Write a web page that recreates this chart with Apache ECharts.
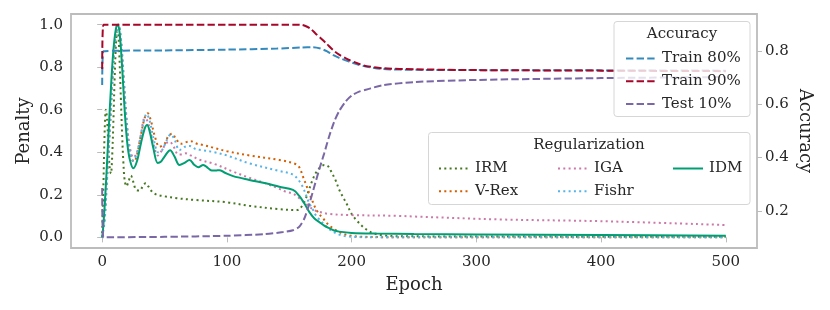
<!DOCTYPE html>
<html>
<head>
<meta charset="utf-8">
<script src="https://cdn.jsdelivr.net/npm/echarts@6/dist/echarts.min.js"></script>
<style>html,body{margin:0;padding:0;background:#fff}#c{width:830px;height:310px}</style>
</head>
<body>
<div id="c"></div>
<script>
// ---- data ----
const xTicks = [0, 100, 200, 300, 400, 500];
const penaltyTicks = [0, 0.2, 0.4, 0.6, 0.8, 1.0];
const accTicks = [0.2, 0.4, 0.6, 0.8];

const idmEpoch = [0,1,3,5,7,9,11,12.5,14,16,18,20,22,25,28,31,34,36,38,41,44.5,47,50,54.5,58,62,66,70,74,77,81,85,88,91,94,98,105,118,131,142,153,158,162,166,170,174,178,182,186,190,200,220,250,300,400,500];
const idmValue = [0,0.06,0.25,0.48,0.70,0.88,0.98,1.0,0.96,0.80,0.60,0.45,0.37,0.325,0.36,0.44,0.51,0.528,0.50,0.42,0.35,0.355,0.38,0.41,0.38,0.34,0.35,0.364,0.34,0.33,0.34,0.325,0.314,0.314,0.316,0.305,0.288,0.27,0.254,0.238,0.223,0.195,0.16,0.12,0.09,0.072,0.055,0.043,0.032,0.027,0.021,0.018,0.016,0.014,0.011,0.008];

const vrexEpoch = [0,2,4,6,8,10,12,13,15,17,19,21,23,25.5,28,31,34,36.5,39,42,46,50,53,56,59,63,67,71,76,81,90,100,118,142,155,158,161,164,166,169,171,174,177,181,185,190,196,205,230,500];
const vrexValue = [0,0.1,0.3,0.5,0.72,0.9,0.99,1.0,0.92,0.75,0.58,0.45,0.38,0.356,0.39,0.48,0.56,0.583,0.55,0.48,0.426,0.44,0.475,0.487,0.465,0.44,0.447,0.452,0.44,0.434,0.42,0.405,0.385,0.364,0.345,0.33,0.285,0.24,0.207,0.165,0.137,0.11,0.09,0.062,0.043,0.025,0.012,0.004,0.001,0.0];

const fishrEpoch = [0,2,4,6,8,10,12,13,15,17,19,21,23,25,28,31,34,35.5,38,41,45,48,52,55,58,62,66,70,75,80,90,100,118,142,153,158,161,164,166,169,171,174,177,181,185,190,196,210,500];
const fishrValue = [0,0.08,0.28,0.5,0.72,0.9,0.99,1.0,0.93,0.76,0.58,0.45,0.38,0.36,0.40,0.48,0.56,0.58,0.55,0.47,0.40,0.41,0.46,0.484,0.46,0.41,0.425,0.43,0.415,0.41,0.40,0.385,0.348,0.312,0.295,0.265,0.235,0.19,0.16,0.13,0.106,0.085,0.067,0.045,0.027,0.013,0.005,0.001,0];

const igaEpoch = [0,2,4,6,8,10,12,13,15,17,19,21,23,25,28,31,34,36,39,42,44.5,48,51,54,57,61,64,67,71,78,90,105,118,131,142,147,153,158,162,166,170,174,182,198,238,250,320,400,500];
const igaValue = [0,0.1,0.3,0.5,0.72,0.9,0.99,1.0,0.93,0.78,0.6,0.47,0.40,0.375,0.40,0.48,0.56,0.55,0.49,0.42,0.385,0.41,0.44,0.45,0.43,0.39,0.39,0.395,0.385,0.365,0.345,0.309,0.28,0.254,0.228,0.215,0.205,0.184,0.165,0.145,0.128,0.12,0.11,0.105,0.101,0.098,0.084,0.076,0.058];

const irmEpoch = [0,1,2,3,4,5,6,7,8,9,10,11,12,13,14,15,16,17,18,19.5,21,23,25,27,30,33,35,37,40,44,50,60,74,100,118,142,155,158,162,165,168,171,174,178,181,184,187,190,193,196,200,204,209,213,217,225,240,500];
const irmValue = [0.02,0.25,0.5,0.6,0.55,0.42,0.33,0.30,0.38,0.55,0.75,0.9,0.97,0.95,0.82,0.65,0.48,0.35,0.27,0.24,0.26,0.29,0.26,0.225,0.22,0.245,0.255,0.24,0.215,0.2,0.193,0.184,0.176,0.165,0.148,0.133,0.128,0.132,0.165,0.21,0.26,0.30,0.325,0.34,0.335,0.305,0.27,0.225,0.19,0.158,0.11,0.08,0.05,0.032,0.02,0.01,0.005,0.003];

const train80Epoch = [0,1,50,100,140,160,169,175,180,185,190,198,205,212,225,252,300,400,500];
const train80Value = [0.673,0.80,0.803,0.806,0.81,0.814,0.815,0.81,0.80,0.786,0.775,0.761,0.75,0.742,0.733,0.73,0.729,0.728,0.727];

const train90Epoch = [0,1,50,100,155,160,163,167,171,175,180,185,190,198,205,212,225,252,300,400,500];
const train90Value = [0.733,0.9,0.9,0.9,0.9,0.899,0.895,0.885,0.867,0.85,0.828,0.805,0.787,0.767,0.754,0.744,0.736,0.732,0.729,0.727,0.725];

const test10Epoch = [0,1,50,100,130,145,153,158,162,166,170,174,178,182,186,190,195,200,206,212,225,250,300,400,500];
const test10Value = [0.286,0.1,0.102,0.106,0.112,0.12,0.127,0.14,0.17,0.225,0.29,0.355,0.416,0.48,0.535,0.575,0.61,0.633,0.648,0.656,0.672,0.684,0.692,0.699,0.703];

// ---- chart ----
const FONT = 'DejaVu Serif';
const TXT = '#262626';
const pairs = (xs, ys) => xs.map((x, i) => [x, ys[i]]);
const dotted = [2, 3.3];
const dashed = [7.4, 3.2];

function penaltySeries(name, xs, ys, color, type, width) {
  return { name, type: 'line', data: pairs(xs, ys), yAxisIndex: 0, showSymbol: false, symbol: 'none',
    smooth: 0.35, z: 2, lineStyle: { color, width, type, cap: 'butt' }, itemStyle: { color } };
}
function accSeries(name, xs, ys, color) {
  return { name, type: 'line', data: pairs(xs, ys), yAxisIndex: 1, showSymbol: false, symbol: 'none',
    smooth: 0.25, z: 3, lineStyle: { color, width: 2, type: dashed }, itemStyle: { color } };
}

const legendText = { fontFamily: FONT, fontSize: 15, color: TXT, lineHeight: 18, padding: [0, 0, 0, 1] };
function mkLegend(names, left, top) {
  return { data: names, orient: 'vertical', left, top, itemWidth: 30, itemHeight: 14, itemGap: 4.8,
    textStyle: legendText, selectedMode: false, z: 20, itemStyle: { opacity: 0 } };
}

const chart = echarts.init(document.getElementById('c'), null, { renderer: 'canvas' });
chart.setOption({
  animation: false,
  backgroundColor: '#fff',
  grid: { left: 71, right: 73, top: 14, bottom: 62, show: true, borderColor: '#bcbcbc', borderWidth: 1.8, backgroundColor: 'transparent' },
  xAxis: {
    type: 'value', min: -25, max: 525,
    name: 'Epoch', nameLocation: 'middle', nameGap: 28,
    nameTextStyle: { fontFamily: FONT, fontSize: 18, color: TXT },
    axisLine: { show: false },
    splitLine: { show: false },
    axisTick: { show: true, customValues: xTicks, length: 5, lineStyle: { color: '#bcbcbc', width: 1 } },
    axisLabel: { customValues: xTicks, fontFamily: FONT, fontSize: 15, color: TXT, margin: 7 }
  },
  yAxis: [
    {
      type: 'value', min: -0.05, max: 1.05, position: 'left',
      name: 'Penalty', nameLocation: 'middle', nameGap: 38, nameRotate: 90, nameMoveOverlap: false,
      nameTextStyle: { fontFamily: FONT, fontSize: 18, color: TXT },
      axisLine: { show: false }, splitLine: { show: false },
      axisTick: { show: true, customValues: penaltyTicks, length: 5, lineStyle: { color: '#bcbcbc', width: 1 } },
      axisLabel: { customValues: penaltyTicks, fontFamily: FONT, fontSize: 15, color: TXT, margin: 8,
        formatter: v => v.toFixed(1) }
    },
    {
      type: 'value', min: 0.06, max: 0.94, position: 'right',
      name: 'Accuracy', nameLocation: 'middle', nameGap: 39, nameRotate: -90, nameMoveOverlap: false,
      nameTextStyle: { fontFamily: FONT, fontSize: 18, color: TXT },
      axisLine: { show: false }, splitLine: { show: false },
      axisTick: { show: true, customValues: accTicks, length: 5, lineStyle: { color: '#bcbcbc', width: 1 } },
      axisLabel: { customValues: accTicks, fontFamily: FONT, fontSize: 15, color: TXT, margin: 8,
        formatter: v => v.toFixed(1) }
    }
  ],
  legend: [
    mkLegend(['Train 80%', 'Train 90%', 'Test 10%'], 620, 44.5),
    mkLegend(['IRM', 'V-Rex'], 433, 154.5),
    mkLegend(['IGA', 'Fishr'], 552, 154.5),
    mkLegend(['IDM'], 667, 154.5)
  ],
  graphic: [
    { type: 'rect', z: 10, shape: { x: 614, y: 21.5, width: 136, height: 95, r: 3 },
      style: { fill: 'rgba(255,255,255,0.8)', stroke: '#d6d6d6', lineWidth: 1 } },
    { type: 'text', z: 11, style: { text: 'Accuracy', x: 682, y: 34.5, align: 'center', verticalAlign: 'middle',
      font: '15px "DejaVu Serif"', fill: TXT } },
    { type: 'rect', z: 10, shape: { x: 428.5, y: 132.5, width: 321.5, height: 72, r: 3 },
      style: { fill: 'rgba(255,255,255,0.8)', stroke: '#d6d6d6', lineWidth: 1 } },
    { type: 'text', z: 11, style: { text: 'Regularization', x: 589, y: 145, align: 'center', verticalAlign: 'middle',
      font: '15px "DejaVu Serif"', fill: TXT } }
  ],
  series: [
    penaltySeries('IRM', irmEpoch, irmValue, '#467821', dotted, 2),
    penaltySeries('V-Rex', vrexEpoch, vrexValue, '#D55E00', dotted, 2),
    penaltySeries('IGA', igaEpoch, igaValue, '#CC79A7', dotted, 2),
    penaltySeries('Fishr', fishrEpoch, fishrValue, '#56B4E9', dotted, 2),
    penaltySeries('IDM', idmEpoch, idmValue, '#009E73', 'solid', 2),
    accSeries('Train 80%', train80Epoch, train80Value, '#348ABD'),
    accSeries('Train 90%', train90Epoch, train90Value, '#A60628'),
    accSeries('Test 10%', test10Epoch, test10Value, '#7A68A6')
  ]
});
</script>
</body>
</html>
